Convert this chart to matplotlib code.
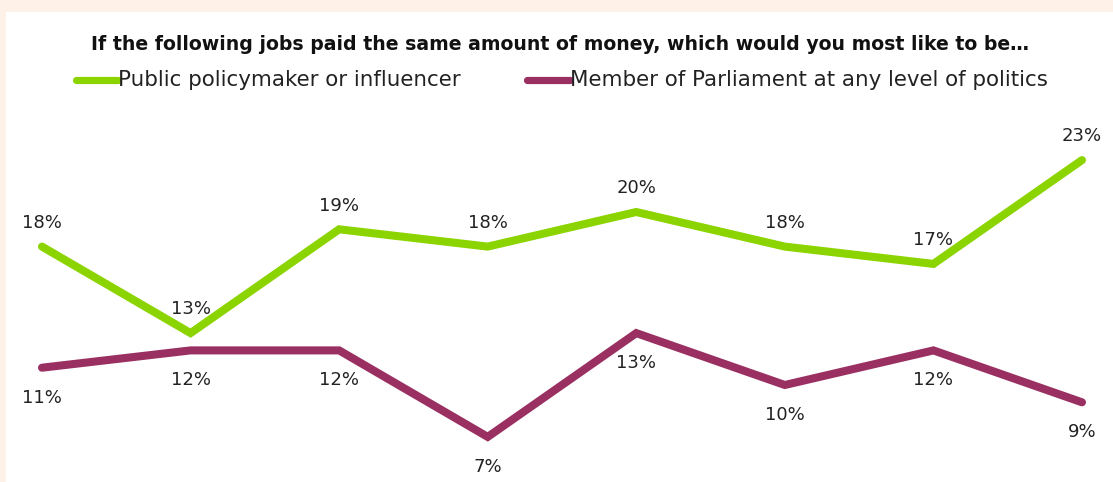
import matplotlib.pyplot as plt
from matplotlib.lines import Line2D
from matplotlib.patches import Rectangle

# Survey results, one point per group (x order as shown)
policymaker = [18, 13, 19, 18, 20, 18, 17, 23]
parliament = [11, 12, 12, 7, 13, 10, 12, 9]
series_names = ["Public policymaker or influencer",
                "Member of Parliament at any level of politics"]
title = "If the following jobs paid the same amount of money, which would you most like to be\u2026"

GREEN = "#8cd400"
PURPLE = "#9a2f62"
PEACH = "#fdf1e8"
TEXT = "#222222"

W, H = 1113, 482
fig = plt.figure(figsize=(W / 100, H / 100), dpi=100)
fig.patch.set_facecolor("white")

# peach frame along the top and left edges
fig.patches.append(Rectangle((0, 1 - 12 / H), 1, 12 / H, transform=fig.transFigure,
                             facecolor=PEACH, edgecolor="none", zorder=0))
fig.patches.append(Rectangle((0, 0), 6 / W, 1, transform=fig.transFigure,
                             facecolor=PEACH, edgecolor="none", zorder=0))

ax = fig.add_axes([0, 0, 1, 1])
ax.set_facecolor("none")
ax.axis("off")

# pixel layout: x = 42 + 148.57*i, y = 558 - 17.3*v
step = 148.57
ax.set_xlim(-42 / step, (W - 42) / step)
ax.set_ylim(558 / 17.3 - H / 17.3, 558 / 17.3)

xs = list(range(len(policymaker)))
ax.plot(xs, policymaker, color=GREEN, lw=5.8, solid_capstyle="round",
        solid_joinstyle="miter")
ax.plot(xs, parliament, color=PURPLE, lw=5.8, solid_capstyle="round",
        solid_joinstyle="miter")

font = "DejaVu Sans"
for x, v in zip(xs, policymaker):
    ax.annotate(f"{v}%", (x, v), xytext=(0, 17), textcoords="offset points",
                ha="center", va="center", fontsize=13, color=TEXT, family=font)
for x, v in zip(xs, parliament):
    ax.annotate(f"{v}%", (x, v), xytext=(0, -21.5), textcoords="offset points",
                ha="center", va="center", fontsize=13, color=TEXT, family=font)

fig.text(560 / W, 1 - 44 / H, title, ha="center", va="center", fontsize=13.6,
         fontweight="bold", color="#111111", family=font)

# legend drawn by hand
for (x0, x1), name, color in [((76, 118), series_names[0], GREEN),
                              ((527, 570), series_names[1], PURPLE)]:
    fig.lines.append(Line2D([x0 / W, x1 / W], [1 - 80 / H, 1 - 80 / H],
                            transform=fig.transFigure, color=color, lw=5.2,
                            solid_capstyle="round"))
    fig.text(x1 / W, 1 - 80 / H, name, ha="left", va="center", fontsize=15.4,
             color=TEXT, family=font)

fig.savefig("out.png", dpi=100)
